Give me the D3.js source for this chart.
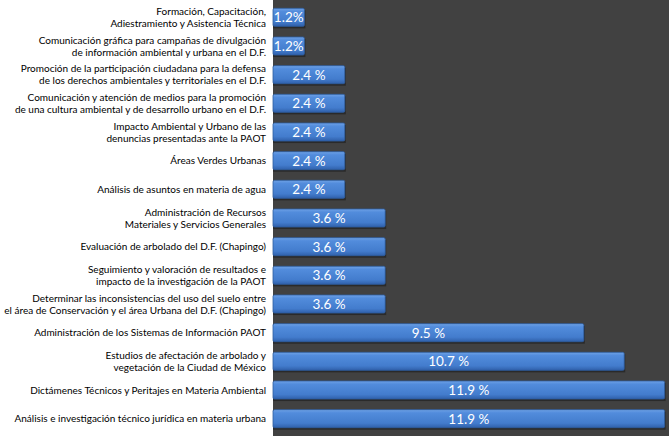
<!DOCTYPE html>
<html><head><meta charset="utf-8">
<script src="https://cdn.jsdelivr.net/npm/d3@7"></script>
<style>html,body{margin:0;padding:0;background:#fff;}svg{display:block;}</style>
</head><body>
<svg id="chart" width="669" height="436"></svg>
<script>
const categories = [
  ["Formación, Capacitación,", "Adiestramiento y Asistencia Técnica"],
  ["Comunicación gráfica para campañas de divulgación", "de información ambiental y urbana en el D.F."],
  ["Promoción de la participación ciudadana para la defensa", "de los derechos ambientales y territoriales en el D.F."],
  ["Comunicación y atención de medios para la promoción", "de una cultura ambiental y de desarrollo urbano en el D.F."],
  ["Impacto Ambiental y Urbano de las", "denuncias presentadas ante la PAOT"],
  ["Áreas Verdes Urbanas"],
  ["Análisis de asuntos en materia de agua"],
  ["Administración de Recursos", "Materiales y Servicios Generales"],
  ["Evaluación de arbolado del D.F. (Chapingo)"],
  ["Seguimiento y valoración de resultados e", "impacto de la investigación de la PAOT"],
  ["Determinar las inconsistencias del uso del suelo entre", "el área de Conservación y el área Urbana del D.F. (Chapingo)"],
  ["Administración de los Sistemas de Información PAOT"],
  ["Estudios de afectación de arbolado y", "vegetación de la Ciudad de México"],
  ["Dictámenes Técnicos y Peritajes en Materia Ambiental"],
  ["Análisis e investigación técnico jurídica en materia urbana"]
];
const values = [1.2, 1.2, 2.4, 2.4, 2.4, 2.4, 2.4, 3.6, 3.6, 3.6, 3.6, 9.5, 10.7, 11.9, 11.9];
const valueLabels = ["1.2%", "1.2%", "2.4 %", "2.4 %", "2.4 %", "2.4 %", "2.4 %", "3.6 %", "3.6 %", "3.6 %", "3.6 %", "9.5 %", "10.7 %", "11.9 %", "11.9 %"];

const W = 669, H = 436;
const plotLeft = 273;
const svg = d3.select("#chart");
const idx = d3.range(values.length);

const x = d3.scaleLinear().domain([0, 12]).range([264, 668]);
const y = d3.scaleBand().domain(idx).range([3, 433]).paddingInner(0.37).paddingOuter(0.185);

const defs = svg.append("defs");
const g = defs.append("linearGradient").attr("id", "barGrad").attr("x1", 0).attr("y1", 0).attr("x2", 0).attr("y2", 1);
g.append("stop").attr("offset", "0%").attr("stop-color", "#6fa2e6");
g.append("stop").attr("offset", "18%").attr("stop-color", "#528cdc");
g.append("stop").attr("offset", "75%").attr("stop-color", "#437ccd");
g.append("stop").attr("offset", "100%").attr("stop-color", "#2f60aa");

// plot background
svg.append("rect").attr("x", plotLeft).attr("y", 0).attr("width", W - plotLeft).attr("height", H).attr("fill", "#414141");

// shadows
svg.append("g").selectAll("rect").data(idx).join("rect")
  .attr("x", plotLeft)
  .attr("y", i => y(i) + 2)
  .attr("width", i => Math.max(0, x(values[i]) - plotLeft) + 1)
  .attr("height", y.bandwidth())
  .attr("fill", "#2a2a2a");

// bars
svg.append("g").selectAll("rect").data(idx).join("rect")
  .attr("x", plotLeft)
  .attr("y", i => y(i))
  .attr("width", i => Math.max(0, x(values[i]) - plotLeft))
  .attr("height", y.bandwidth())
  .attr("rx", 1.5)
  .attr("fill", "url(#barGrad)")
  .attr("stroke", "#2f5d9e")
  .attr("stroke-width", 0.8);

// value labels
svg.append("g").selectAll("text").data(idx).join("text")
  .attr("x", i => (plotLeft + x(values[i])) / 2)
  .attr("y", i => y(i) + y.bandwidth() / 2)
  .attr("dy", "0.36em")
  .attr("text-anchor", "middle")
  .attr("fill", "#ffffff")
  .style("font-family", "Lato, 'Open Sans', sans-serif")
  .style("font-size", "13.5px")
  .text(i => valueLabels[i]);

// category labels
const lab = svg.append("g").selectAll("text").data(idx).join("text")
  .attr("text-anchor", "end")
  .attr("fill", "#000")
  .style("font-family", "Lato, 'Open Sans', sans-serif")
  .style("font-size", "10px")
  .attr("y", i => y(i) + y.bandwidth() / 2 - (categories[i].length - 1) * 6);
lab.each(function(i) {
  const t = d3.select(this);
  categories[i].forEach((line, k) => {
    t.append("tspan").attr("x", 266).attr("dy", k === 0 ? "0.35em" : "12px").text(line);
  });
});
</script>
</body></html>
